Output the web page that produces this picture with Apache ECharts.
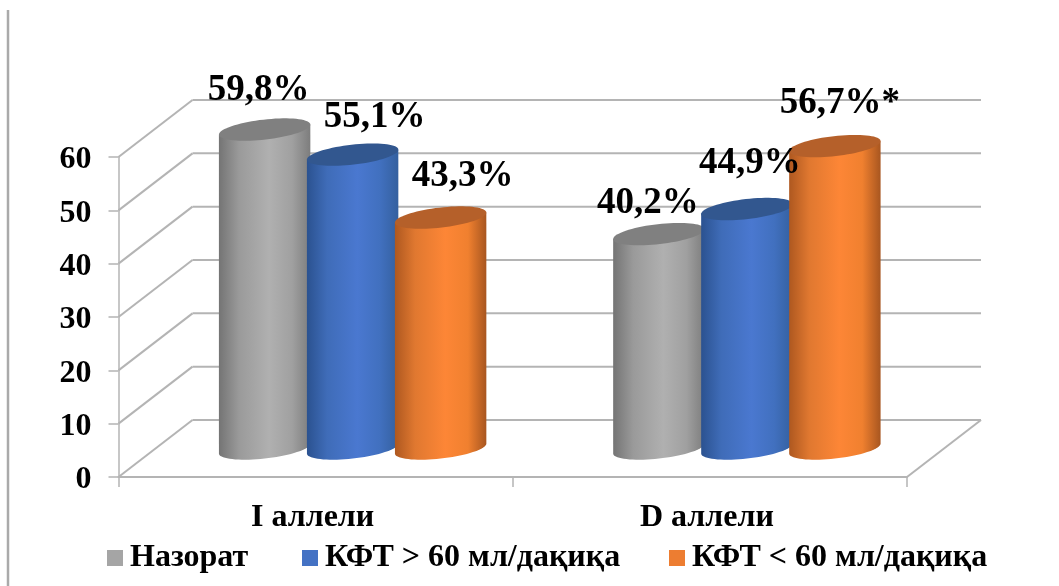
<!DOCTYPE html>
<html><head><meta charset="utf-8">
<style>html,body{margin:0;padding:0;background:#fff}#c{width:1059px;height:586px}</style>
<script src="https://cdn.jsdelivr.net/npm/echarts@6/dist/echarts.min.js"></script>
</head><body><div id="c"></div>
<script>
const categories = ['I аллели', 'D аллели'];
const seriesNames = ['Назорат', 'КФТ > 60 мл/дақиқа', 'КФТ < 60 мл/дақиқа'];
const control = [59.8, 40.2];
const gfrHigh = [55.1, 44.9];
const gfrLow = [43.3, 56.7];
const yTicks = [0, 10, 20, 30, 40, 50, 60];
const labelSuffix = [['%', '%'], ['%', '%'], ['%', '%*']];

// Style and layout of the pseudo-3D look
const FONT = '"Liberation Serif","Times New Roman",serif';
const DEPTH_X = 74, DEPTH_Y = 57, STEP = 88, RX = 46, RY = 10, TILT = 6.5 * Math.PI / 180;
const GRID_COLOR = '#b4b4b4';
const labelOffsets = [[[-6, -39], [-11, -31]], [[22, -37], [3, -46]], [[22, -41], [5, -43]]];
const legendLefts = [107, 302, 669];
const palettes = [
  { legend: '#a5a5a5', top: '#808080', stops: ['#747474', '#9a9a9a', '#b0b0b0', '#a0a0a0', '#7d7d7d'] },
  { legend: '#4472c4', top: '#32578f', stops: ['#2b5290', '#3f6cb8', '#4a78d0', '#4170bf', '#34609f'] },
  { legend: '#ed7d31', top: '#b5602a', stops: ['#ae5820', '#e07830', '#fd8636', '#f0802f', '#a85620'] }
];
const allValues = [control, gfrHigh, gfrLow];

function ellipsePoint(cx, cy, t) {
  const c = Math.cos(t), s = Math.sin(t);
  return [cx + RX * c * Math.cos(TILT) + RY * s * Math.sin(TILT),
          cy - RX * c * Math.sin(TILT) + RY * s * Math.cos(TILT)];
}
function ellipse(cx, cy) {
  const pts = [];
  for (let i = 0; i < 72; i++) pts.push(ellipsePoint(cx, cy, i / 72 * 2 * Math.PI));
  return pts;
}
function cylinderItem(si) {
  return function (params, api) {
    const c = api.coord([api.value(0), api.value(1)]);
    const b = api.coord([api.value(0), 0]);
    const cx = c[0] + DEPTH_X / 2 + (si - 1) * STEP;
    const topY = c[1] - DEPTH_Y / 2, botY = b[1] - DEPTH_Y / 2;
    const t0 = Math.atan2(RY * Math.sin(TILT), RX * Math.cos(TILT));
    const body = [];
    for (let i = 0; i <= 36; i++) body.push(ellipsePoint(cx, botY, t0 + i / 36 * Math.PI));
    body.push(ellipsePoint(cx, topY, t0 + Math.PI));
    body.push(ellipsePoint(cx, topY, t0));
    const p = palettes[si];
    return { type: 'group', children: [
      { type: 'polygon', shape: { points: body }, style: { fill: new echarts.graphic.LinearGradient(0, 0, 1, 0, [
        { offset: 0, color: p.stops[0] }, { offset: 0.22, color: p.stops[1] },
        { offset: 0.55, color: p.stops[2] }, { offset: 0.8, color: p.stops[3] }, { offset: 1, color: p.stops[4] }]) } },
      { type: 'polygon', shape: { points: ellipse(cx, topY) }, style: { fill: p.top } }
    ] };
  };
}
const gridItem = function (params, api) {
  const y = api.coord([0, api.value(0)])[1];
  const s = params.coordSys;
  const lineStyle = { stroke: GRID_COLOR, lineWidth: 2, fill: null };
  const kids = [
    { type: 'line', shape: { x1: s.x, y1: y, x2: s.x + DEPTH_X, y2: y - DEPTH_Y }, style: lineStyle },
    { type: 'line', shape: { x1: s.x + DEPTH_X, y1: y - DEPTH_Y, x2: s.x + s.width + DEPTH_X, y2: y - DEPTH_Y }, style: lineStyle }
  ];
  if (api.value(0) === 0) kids.push({ type: 'line', shape: { x1: s.x + s.width, y1: y, x2: s.x + s.width + DEPTH_X, y2: y - DEPTH_Y }, style: lineStyle });
  return { type: 'group', children: kids };
};
const labelItem = function (params, api) {
  const ci = api.value(0), si = api.value(2), v = api.value(1);
  const c = api.coord([ci, v]);
  const off = labelOffsets[si][ci];
  return { type: 'text', style: {
    x: c[0] + DEPTH_X / 2 + (si - 1) * STEP + off[0], y: c[1] - DEPTH_Y / 2 + off[1],
    text: v.toFixed(1).replace('.', ',') + labelSuffix[si][ci],
    font: 'bold 37px ' + FONT, fill: '#000', align: 'center', verticalAlign: 'middle' } };
};
const labelData = [];
allValues.forEach((vals, si) => vals.forEach((v, ci) => labelData.push([ci, v, si])));

const chart = echarts.init(document.getElementById('c'), null, { renderer: 'canvas' });
chart.setOption({
  animation: false,
  backgroundColor: '#fff',
  grid: { left: 118.5, width: 788.5, top: 157, height: 320 },
  legend: seriesNames.map((name, si) => ({
    data: [name], left: legendLefts[si], top: 539, padding: 0, itemWidth: 16, itemHeight: 16, icon: 'rect',
    selectedMode: false,
    textStyle: { fontFamily: FONT, fontWeight: 'bold', fontSize: 32, color: '#000', padding: [0, 0, 0, 2], verticalAlign: 'top', lineHeight: 38 }
  })),
  xAxis: {
    type: 'category', data: categories,
    axisLine: { lineStyle: { color: GRID_COLOR, width: 2 } },
    axisTick: { show: true, alignWithLabel: false, length: 10, lineStyle: { color: GRID_COLOR, width: 1.5 } },
    axisLabel: { margin: 25, fontFamily: FONT, fontWeight: 'bold', fontSize: 32, color: '#000', padding: [0, 6, 0, 0] }
  },
  yAxis: {
    type: 'value', min: 0, max: 60, interval: 10,
    axisLine: { show: true, lineStyle: { color: GRID_COLOR, width: 1.5 } },
    axisTick: { show: true, length: 10, lineStyle: { color: GRID_COLOR, width: 1.5 } },
    splitLine: { show: false },
    axisLabel: { margin: 27, fontFamily: FONT, fontWeight: 'bold', fontSize: 32, color: '#000', verticalAlign: 'top', lineHeight: 6 }
  },
  graphic: [{ type: 'line', shape: { x1: 8, y1: 10, x2: 8, y2: 586 }, style: { stroke: '#aaaaaa', lineWidth: 2.5 } }],
  series: [
    { type: 'custom', name: 'grid', silent: true, data: yTicks.map(v => [v]), encode: { y: 0 }, renderItem: gridItem, z: 1 },
    ...seriesNames.map((name, si) => ({
      type: 'custom', name, itemStyle: { color: palettes[si].legend }, z: 2 + si,
      data: allValues[si].map((v, ci) => [ci, v]), encode: { x: 0, y: 1 }, renderItem: cylinderItem(si)
    })),
    { type: 'custom', name: 'labels', silent: true, data: labelData, encode: { x: 0, y: 1 }, renderItem: labelItem, z: 10 }
  ]
});
</script></body></html>
